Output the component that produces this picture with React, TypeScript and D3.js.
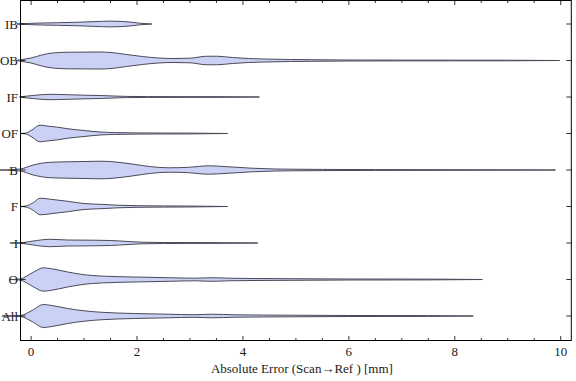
import React from "react";
import * as d3 from "d3";

const categories = ["All", "O", "I", "F", "B", "OF", "IF", "OB", "IB"];

// profiles: [error value (mm), relative density half-width]
const profAll: [number, number][] = [[-0.55, 0], [-0.2, 0.6], [0.04, 6.2], [0.23, 11.5], [0.36, 10.8], [0.69, 7.5], [1.0, 5.2], [1.31, 3.8], [1.94, 2.5], [2.59, 1.8], [3.09, 1.3], [3.41, 1.8], [3.85, 1.2], [4.93, 0.8], [6, 0.5], [7.5, 0.4], [8.35, 0]];
const profO: [number, number][] = [[-0.4, 0], [-0.21, 0.6], [0.04, 7.2], [0.23, 11.7], [0.36, 11.0], [0.69, 7.5], [1.0, 4.8], [1.31, 3.5], [1.94, 2.5], [2.59, 1.8], [3.09, 1.3], [3.41, 1.8], [3.73, 1.3], [4.17, 1.0], [4.93, 0.8], [6, 0.5], [7.5, 0.4], [8.52, 0]];
const profI: [number, number][] = [[-0.4, 0], [-0.15, 0.5], [0.04, 2.0], [0.36, 3.7], [0.69, 3.0], [1.18, 2.8], [1.5, 2.5], [1.83, 1.5], [2.08, 0.8], [2.5, 0.5], [3.0, 0.4], [3.6, 0.35], [4.28, 0]];
const profF: [number, number][] = [[-0.2, 0], [-0.1, 0.5], [0.04, 3.8], [0.17, 8.3], [0.36, 7.3], [0.69, 5.2], [1.0, 3.0], [1.31, 2.2], [1.64, 1.3], [2.0, 0.8], [2.5, 0.6], [3.0, 0.45], [3.71, 0]];
const profB: [number, number][] = [[-0.6, 0], [-0.3, 0.5], [-0.2, 1], [0.04, 5], [0.36, 7.7], [0.69, 8.2], [1.0, 8.5], [1.31, 8.8], [1.56, 8.2], [1.94, 5.7], [2.27, 3.3], [2.59, 2.2], [2.97, 2.7], [3.35, 4.2], [3.73, 3.2], [4.17, 1.8], [4.61, 1.0], [4.93, 0.8], [5.5, 0.6], [6.5, 0.4], [8, 0.3], [9.9, 0]];
const profOF: [number, number][] = [[-0.2, 0], [-0.11, 0.3], [0.0, 3.0], [0.17, 8.3], [0.3, 7.5], [0.5, 6.3], [0.7, 4.7], [1.0, 3.0], [1.3, 1.5], [1.6, 0.9], [2.0, 0.6], [2.5, 0.45], [3.0, 0.4], [3.71, 0]];
const profIF: [number, number][] = [[-0.22, 0], [-0.1, 0.8], [0.05, 1.6], [0.35, 2.7], [0.7, 2.3], [1.0, 1.8], [1.3, 1.5], [1.6, 0.9], [1.8, 0.6], [2.2, 0.4], [3, 0.35], [3.6, 0.35], [4.31, 0]];
const profOB: [number, number][] = [[-0.28, 0], [-0.2, 0.8], [0, 2.5], [0.2, 5.5], [0.4, 7.5], [0.7, 8.3], [1.0, 8.4], [1.3, 8.5], [1.55, 7.8], [1.8, 6], [2.1, 4], [2.4, 2.5], [2.7, 2], [3.0, 2.3], [3.3, 4.2], [3.5, 4.3], [3.8, 3], [4.1, 2], [4.4, 1.5], [4.9, 1], [5.3, 0.8], [6, 0.5], [7, 0.4], [8, 0.35], [9, 0.3], [9.98, 0]];
const profIB: [number, number][] = [[-0.27, 0], [-0.1, 0.5], [0.2, 1.0], [0.5, 1.3], [0.9, 1.8], [1.2, 2.4], [1.5, 2.9], [1.7, 2.6], [1.9, 1.8], [2.05, 0.8], [2.2, 0.3], [2.28, 0]];

const profiles = [profAll, profO, profI, profF, profB, profOF, profIF, profOB, profIB];

const xTicksMajor = [0, 2, 4, 6, 8, 10];
const xTicksMinor = d3.range(-0.0, 10.01, 0.5);
const xTitle = "Absolute Error (Scan\u2192Ref ) [mm]";

export default function App() {
  const W = 576, H = 381;
  const left = 20.5, right = 571.3, top = 0.5, bottom = 340.5;
  const x = d3.scaleLinear().domain([-0.2, 10.2]).range([left, right]);
  const y = d3.scaleLinear().domain([0.329, 9.644]).range([bottom, top]);
  const step = Math.abs(y(1) - y(2));
  const w = d3.scaleLinear().domain([0, 10]).range([0, 10 * step / 36.5]);
  const font = "'Liberation Serif', 'Times New Roman', serif";

  return (
    <svg width={W} height={H} style={{ position: "absolute", left: 0, top: 0 }} fontFamily={font}>
      {profiles.map((p, i) => {
        const cy = y(i + 1);
        const area = d3.area<[number, number]>()
          .x(d => x(d[0]))
          .y0(d => cy + w(d[1]))
          .y1(d => cy - w(d[1]))
          .curve(d3.curveMonotoneX);
        return (
          <path key={i} d={area(p) || ""} fill="#cbd0f5" stroke="#4a4a58" strokeWidth={1} />
        );
      })}
      {/* frame */}
      <rect x={left} y={top} width={right - left} height={bottom - top} fill="none" stroke="#000" strokeWidth={1} />
      {/* x ticks */}
      {xTicksMinor.map((t, i) => {
        const major = Math.abs(t % 2) < 1e-9;
        const len = major ? 4.5 : 2.5;
        return (
          <g key={i}>
            <line x1={x(t)} x2={x(t)} y1={bottom} y2={bottom - len} stroke="#000" strokeWidth={0.8} />
            <line x1={x(t)} x2={x(t)} y1={top} y2={top + len} stroke="#000" strokeWidth={0.8} />
          </g>
        );
      })}
      {xTicksMajor.map(t => (
        <text key={t} x={x(t)} y={bottom + 15} fontSize={13} textAnchor="middle" fill="#1a1a1a">{t}</text>
      ))}
      {/* y ticks and labels */}
      {categories.map((c, i) => {
        const cy = y(i + 1);
        return (
          <g key={c}>
            <line x1={left} x2={left + 5} y1={cy} y2={cy} stroke="#000" strokeWidth={0.8} />
            <line x1={right} x2={right - 5} y1={cy} y2={cy} stroke="#000" strokeWidth={0.8} />
            <text x={18} y={cy + 4.5} fontSize={13} textAnchor="end" fill="#1a1a1a">{c}</text>
          </g>
        );
      })}
      <text x={(left + right) / 2 + 6} y={373} fontSize={13} textAnchor="middle" fill="#1a1a1a">{xTitle}</text>
    </svg>
  );
}
